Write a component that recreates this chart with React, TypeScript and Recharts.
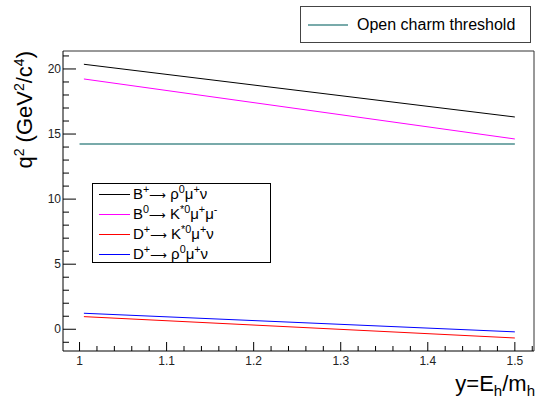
import { LineChart, Line, XAxis, YAxis, ReferenceLine } from "recharts";

// y = E_h / m_h at the ends of each curve
const yRange = [1.005, 1.5];
const thresholdRange = [1.0, 1.5];

// q^2 (GeV^2/c^4)
const bToRho = [20.36, 16.31];
const b0ToKstar = [19.23, 14.62];
const dToKstar = [0.97, -0.67];
const dToRho = [1.23, -0.2];
const openCharm = [14.23, 14.23];

const xTicks = [
  1.0, 1.02, 1.04, 1.06, 1.08, 1.1, 1.12, 1.14, 1.16, 1.18, 1.2, 1.22, 1.24, 1.26,
  1.28, 1.3, 1.32, 1.34, 1.36, 1.38, 1.4, 1.42, 1.44, 1.46, 1.48, 1.5, 1.52,
];
const yTicks = [
  -1, 0, 1, 2, 3, 4, 5, 6, 7, 8, 9, 10, 11, 12, 13, 14, 15, 16, 17, 18, 19, 20, 21,
];

const toPoints = (xs: number[], ys: number[]) => xs.map((x, i) => ({ x, q2: ys[i] }));

const FONT = "'Liberation Sans', Arial, Helvetica, sans-serif";
const PLOT_LEFT = 63;
const PLOT_BOTTOM = 351;

// ROOT's #rightarrow is long and thin
const Arrow = () => (
  <span style={{ fontFamily: "'DejaVu Sans'", fontSize: "0.78em" }}>⟶</span>
);

const series = [
  {
    key: "bRho",
    data: toPoints(yRange, bToRho),
    color: "#000000",
    label: (
      <>B<sup>+</sup><Arrow /> ρ<sup>0</sup>μ<sup>+</sup>ν</>
    ),
  },
  {
    key: "b0Kstar",
    data: toPoints(yRange, b0ToKstar),
    color: "#ff00ff",
    label: (
      <>B<sup>0</sup><Arrow /> K<sup>*0</sup>μ<sup>+</sup>μ<sup>-</sup></>
    ),
  },
  {
    key: "dKstar",
    data: toPoints(yRange, dToKstar),
    color: "#ff0000",
    label: (
      <>D<sup>+</sup><Arrow /> K<sup>*0</sup>μ<sup>+</sup>ν</>
    ),
  },
  {
    key: "dRho",
    data: toPoints(yRange, dToRho),
    color: "#0000ff",
    label: (
      <>D<sup>+</sup><Arrow /> ρ<sup>0</sup>μ<sup>+</sup>ν</>
    ),
  },
];

const isMajorX = (v: number) => Math.abs(v * 10 - Math.round(v * 10)) < 1e-6;

const XTick = ({ x, payload }: any) => {
  const v = payload.value as number;
  const major = isMajorX(v);
  return (
    <g>
      <line x1={x} x2={x} y1={PLOT_BOTTOM} y2={PLOT_BOTTOM - (major ? 9 : 5)} stroke="#000" />
      {major && v <= 1.5 && (
        <text x={x} y={365} textAnchor="middle" fontSize={12} fontFamily={FONT} fill="#222">
          {Number(v.toFixed(1)).toString()}
        </text>
      )}
    </g>
  );
};

const YTick = ({ y, payload }: any) => {
  const v = payload.value as number;
  const major = v % 5 === 0;
  return (
    <g>
      <line x1={PLOT_LEFT} x2={PLOT_LEFT + (major ? 13 : 6)} y1={y} y2={y} stroke="#000" />
      {major && (
        <text x={61} y={y} dy={4} textAnchor="end" fontSize={12} fontFamily={FONT} fill="#222">
          {v}
        </text>
      )}
    </g>
  );
};

const XTitle = () => (
  <text x={535} y={391} textAnchor="end" fontSize={22} fontFamily={FONT} fill="#000">
    y=E<tspan dy={5} fontSize={15}>h</tspan>
    <tspan dy={-5}>/m</tspan>
    <tspan dy={5} fontSize={15}>h</tspan>
  </text>
);

const YTitle = () => (
  <text
    x={32}
    y={51}
    transform="rotate(-90 32 51)"
    textAnchor="end"
    fontSize={22}
    fontFamily={FONT}
    fill="#000"
  >
    q<tspan dy={-8} fontSize={14}>2</tspan>
    <tspan dy={8}> (GeV</tspan>
    <tspan dy={-8} fontSize={14}>2</tspan>
    <tspan dy={8}>/c</tspan>
    <tspan dy={-8} fontSize={14}>4</tspan>
    <tspan dy={8}>)</tspan>
  </text>
);

const App = () => {
  return (
    <div style={{ position: "absolute", left: 0, top: 0, width: 536, height: 400, background: "#fff" }}>
      <LineChart width={536} height={400} margin={{ top: 51, right: 2, left: 0, bottom: 0 }}>
        <XAxis
          type="number"
          dataKey="x"
          domain={[0.981, 1.522]}
          allowDataOverflow
          ticks={xTicks}
          interval={0}
          tickLine={false}
          tickSize={0}
          tick={<XTick />}
          height={49}
          axisLine={{ stroke: "#000" }}
          label={{ content: <XTitle /> }}
        />
        <YAxis
          type="number"
          dataKey="q2"
          domain={[-1.67, 21.38]}
          allowDataOverflow
          ticks={yTicks}
          interval={0}
          tickLine={false}
          tickSize={0}
          tick={<YTick />}
          width={63}
          axisLine={{ stroke: "#000" }}
          label={{ content: <YTitle /> }}
        />
        <ReferenceLine y={21.38} stroke="#333" ifOverflow="visible" />
        <ReferenceLine x={1.522} stroke="#333" ifOverflow="visible" />
        <Line
          data={toPoints(thresholdRange, openCharm)}
          dataKey="q2"
          name="Open charm threshold"
          stroke="#78aaaa"
          strokeWidth={2}
          dot={false}
          isAnimationActive={false}
        />
        {series.map((s) => (
          <Line
            key={s.key}
            data={s.data}
            dataKey="q2"
            name={s.key}
            stroke={s.color}
            strokeWidth={1}
            dot={false}
            isAnimationActive={false}
          />
        ))}
      </LineChart>

      <div
        style={{
          position: "absolute", left: 300, top: 6, width: 229, height: 35,
          border: "1px solid #444", background: "#fff", fontFamily: FONT, fontSize: 16,
          display: "flex", alignItems: "center",
        }}
      >
        <span style={{ display: "inline-block", marginLeft: 7, width: 40, height: 2, background: "#78aaaa" }} />
        <span style={{ marginLeft: 9 }}>Open charm threshold</span>
      </div>

      <div
        style={{
          position: "absolute", left: 92, top: 183, width: 177, height: 78,
          border: "1px solid #000", background: "#fff", fontFamily: FONT, fontSize: 15,
        }}
      >
        {series.map((s) => (
          <div key={s.key} style={{ display: "flex", alignItems: "center", height: 20 }}>
            <span style={{ display: "inline-block", marginLeft: 6, width: 31, height: 1, background: s.color }} />
            <span style={{ marginLeft: 3, lineHeight: "20px", whiteSpace: "nowrap" }}>{s.label}</span>
          </div>
        ))}
      </div>
      <style>{`sup { font-size: 0.72em; line-height: 0; vertical-align: 0.6em; }`}</style>
    </div>
  );
};

export default App;
